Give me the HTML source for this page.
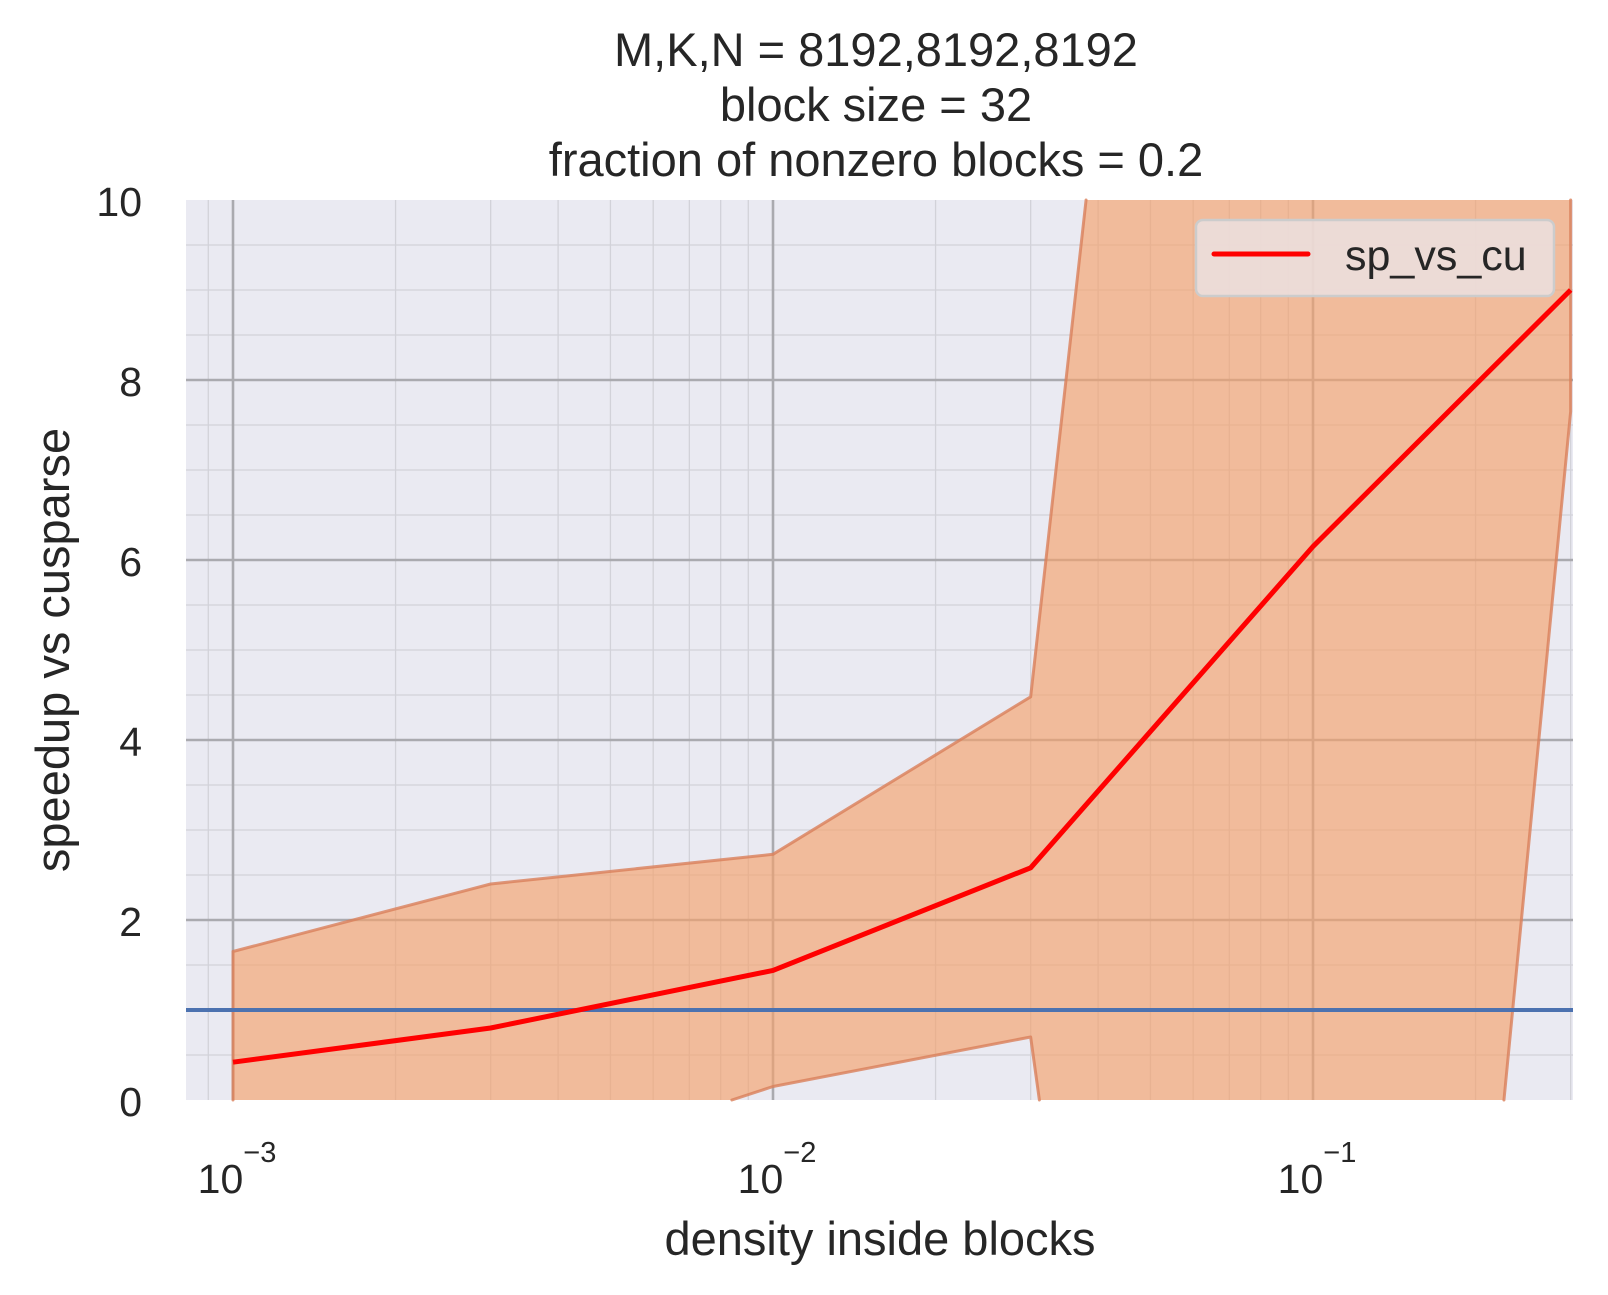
<!DOCTYPE html>
<html><head><meta charset="utf-8"><style>
html,body{margin:0;padding:0;background:#fff;width:1608px;height:1295px;overflow:hidden;}
svg{display:block;font-family:"Liberation Sans",Arial,sans-serif;}
</style></head><body>
<svg width="1608" height="1295" viewBox="0 0 1608 1295" xmlns="http://www.w3.org/2000/svg">
<rect x="186" y="200" width="1387" height="900" fill="#eaeaf2"/>
<g id="grid"></g>
<g id="marks"></g>
<g id="axes"></g>
<text x="876" y="66" font-size="47" text-anchor="middle" fill="#262626">M,K,N = 8192,8192,8192</text>
<text x="876" y="121" font-size="47" text-anchor="middle" fill="#262626">block size = 32</text>
<text x="876" y="176" font-size="47" text-anchor="middle" fill="#262626">fraction of nonzero blocks = 0.2</text>
<text x="880" y="1255" font-size="47" text-anchor="middle" fill="#262626">density inside blocks</text>
<text transform="translate(69,650) rotate(-90)" font-size="47" text-anchor="middle" fill="#262626">speedup vs cusparse</text>
<g>
<rect x="1196" y="220" width="358" height="76" rx="7" fill="#ebe0e0" fill-opacity="0.85" stroke="#cccccc" stroke-width="2.5"/>
<line x1="1214" y1="254" x2="1308" y2="254" stroke="#ff0000" stroke-width="5" stroke-linecap="round"/>
<text x="1345" y="270" font-size="43" fill="#262626">sp_vs_cu</text>
</g>
</svg>
<script>
const xs = [0.001, 0.003, 0.01, 0.03, 0.1, 0.3];
const mean = [0.42, 0.8, 1.44, 2.58, 6.15, 9.0];
const upper = [1.65, 2.4, 2.73, 4.48, 32.6, 30];
const lower = [-1, -0.88, 0.15, 0.7, -21.9, 7.65];
const baseline = 1;
const yTicks = [0, 2, 4, 6, 8, 10];
const xTickExps = [-3, -2, -1];

const NS = 'http://www.w3.org/2000/svg';
const L = 186, R = 1573, T = 200, B = 1100;
const YMIN = 0, YMAX = 10;
const X = v => 233 + (Math.log10(v) + 3) * 540;
const Y = v => B - (v - YMIN) * (B - T) / (YMAX - YMIN);
function mk(tag, attrs, parent) {
  const e = document.createElementNS(NS, tag);
  for (const k in attrs) e.setAttribute(k, attrs[k]);
  parent.appendChild(e); return e;
}
const grid = document.getElementById('grid');
const marks = document.getElementById('marks');
const axes = document.getElementById('axes');
for (let e = -4; e <= 0; e++) for (let m = 2; m <= 9; m++) {
  const x = X(m * Math.pow(10, e));
  if (x < L || x > R) continue;
  const l = mk('line', {x1: x, x2: x, y1: T, y2: B, stroke: '#d2d2d9', 'stroke-width': 1.3}, grid);
  
  
}
for (let v = 0.5; v < 10; v += 0.5) {
  if (v % 2 === 0) continue;
  const l = mk('line', {x1: L, x2: R, y1: Y(v), y2: Y(v), stroke: '#d2d2d9', 'stroke-width': 1.3}, grid);
  
  
}
xTickExps.forEach(e => {
  const x = X(Math.pow(10, e));
  const l = mk('line', {x1: x, x2: x, y1: T, y2: B, stroke: '#aaaaaf', 'stroke-width': 2.6}, grid);
  
  
  const t = mk('text', {x: x + 4, y: 1193, 'font-size': 41, 'text-anchor': 'middle', fill: '#262626'}, axes);
  
  
  t.textContent = '10';
  const s = mk('tspan', {dy: -31, 'font-size': 29}, t);
  s.textContent = '\u2212' + Math.abs(e);
});
yTicks.forEach(v => {
  if (v > 0 && v < 10) {
    const l = mk('line', {x1: L, x2: R, y1: Y(v), y2: Y(v), stroke: '#aaaaaf', 'stroke-width': 2.6}, grid);
    
    
  }
  const t = mk('text', {x: 142, y: Y(v) + 16, 'font-size': 41, 'text-anchor': 'end', fill: '#262626'}, axes);
  
  
  t.textContent = v;
});
let poly = xs.map((x, i) => [Math.log10(x), upper[i]]);
for (let i = xs.length - 1; i >= 0; i--) poly.push([Math.log10(xs[i]), lower[i]]);
function clipY(pts, lim, keepBelow) {
  const inside = p => keepBelow ? p[1] <= lim : p[1] >= lim;
  const out = [];
  for (let i = 0; i < pts.length; i++) {
    const a = pts[i], b = pts[(i + 1) % pts.length];
    const ia = inside(a), ib = inside(b);
    if (ia) out.push(a);
    if (ia !== ib) {
      const t = (lim - a[1]) / (b[1] - a[1]);
      out.push([a[0] + t * (b[0] - a[0]), lim]);
    }
  }
  return out;
}
const clipped = clipY(clipY(poly, YMAX, true), YMIN, false);
const PX = p => X(Math.pow(10, p[0])).toFixed(2);
const PY = p => Y(p[1]).toFixed(2);
const fillD = clipped.map((p, i) => (i ? 'L' : 'M') + PX(p) + ',' + PY(p)).join(' ') + ' Z';
const band = mk('path', {d: fillD, fill: '#f4a26c', 'fill-opacity': 0.65, stroke: 'none'}, marks);


// outline: clipped polygon edges, skipping edges lying on the y-limits
let edgeD = '';
for (let i = 0; i < clipped.length; i++) {
  const a = clipped[i], b = clipped[(i + 1) % clipped.length];
  const onLim = (a[1] === YMIN && b[1] === YMIN) || (a[1] === YMAX && b[1] === YMAX);
  if (onLim) continue;
  edgeD += 'M' + PX(a) + ',' + PY(a) + ' L' + PX(b) + ',' + PY(b) + ' ';
}
const edge = mk('path', {d: edgeD, fill: 'none', stroke: '#d9805a', 'stroke-width': 3, 'stroke-opacity': 0.8, 'stroke-linecap': 'round'}, marks);


const bl = mk('line', {x1: L, x2: R, y1: Y(baseline), y2: Y(baseline), stroke: '#4c72b0', 'stroke-width': 4}, marks);


const ml = mk('polyline', {points: xs.map((x, i) => X(x) + ',' + Y(mean[i])).join(' '), fill: 'none', stroke: '#ff0000', 'stroke-width': 5, 'stroke-linejoin': 'round'}, marks);


</script>
</body></html>
